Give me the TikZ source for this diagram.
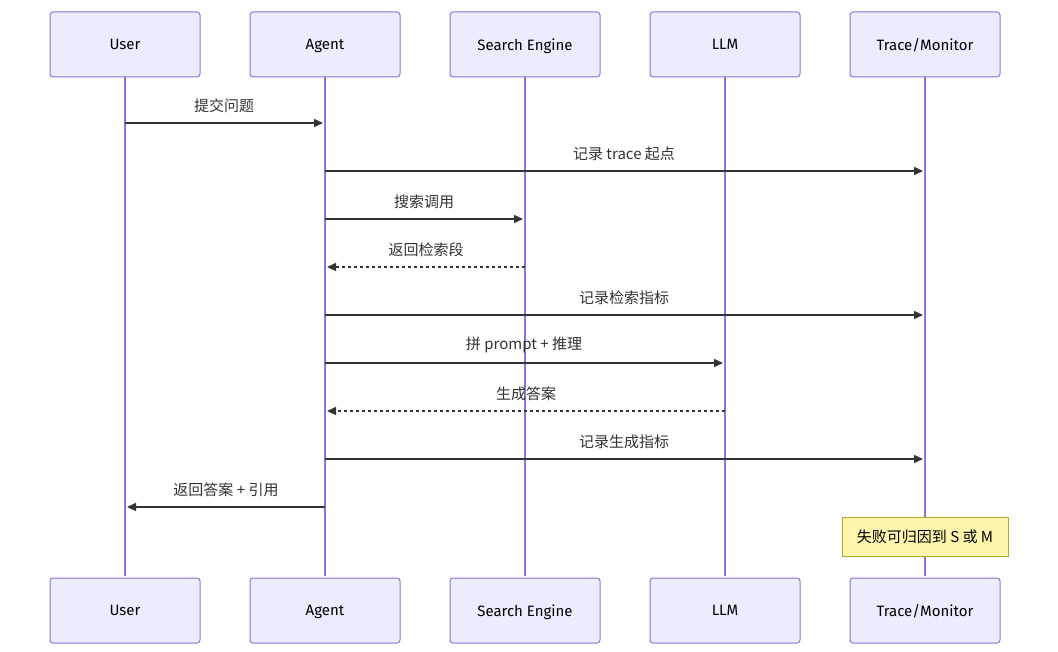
\documentclass[tikz,border=0pt]{standalone}
\usepackage{fontspec}
\setmainfont{Fira Sans}
\newfontfamily\cjk{Noto Sans CJK SC}
\usetikzlibrary{arrows.meta, positioning}
\definecolor{boxfill}{HTML}{ECECFF}
\definecolor{boxline}{HTML}{9370DB}
\definecolor{notefill}{HTML}{FFF5AD}
\definecolor{noteline}{HTML}{AAAA33}
\definecolor{msgline}{HTML}{333333}
\begin{document}
\begin{tikzpicture}[x=1pt, y=-1pt, >={Triangle[length=9pt, width=8pt]}, font=\fontsize{15}{18}\selectfont]
        \tikzset{
            actor/.style={draw=boxline, line width=1pt, fill=boxfill, rounded corners=3pt, minimum width=150pt, minimum height=65pt, inner sep=0pt, text depth=0pt, yshift=-1pt},
            msg/.style={->, draw=msgline, line width=1.5pt},
            reply/.style={msg, dash pattern=on 3pt off 3pt},
            lbl/.style={midway, above=6pt, font=\cjk\fontsize{15}{18}\selectfont, text=msgline},
        }
        \fill[white] (0, 0) rectangle (1058, 652);
        % actors and lifelines
        \foreach \name/\txt/\x in {user/User/125, agent/Agent/325, search/Search Engine/525, llm/LLM/725, trace/Trace\slash Monitor/925} {
            \draw[boxline, line width=2pt] (\x, 75) -- (\x, 576);
            \node[actor] (\name top) at (\x, 43.5) {\txt};
            \node[actor] (\name bot) at (\x, 609.5) {\txt};
        }
        % messages
        \draw[msg] (125, 123) -- (323, 123) node[lbl] {提交问题};
        \draw[msg] (325, 171) -- (923, 171) node[lbl] {记录 trace 起点};
        \draw[msg] (325, 219) -- (523, 219) node[lbl] {搜索调用};
        \draw[reply] (525, 267) -- (327, 267) node[lbl] {返回检索段};
        \draw[msg] (325, 315) -- (923, 315) node[lbl] {记录检索指标};
        \draw[msg] (325, 363) -- (723, 363) node[lbl] {拼 prompt + 推理};
        \draw[reply] (725, 411) -- (327, 411) node[lbl] {生成答案};
        \draw[msg] (325, 459) -- (923, 459) node[lbl] {记录生成指标};
        \draw[msg] (325, 507) -- (127, 507) node[lbl] {返回答案 + 引用};
        % note
        \node[draw=noteline, line width=1pt, fill=notefill, minimum width=166pt, minimum height=39pt, font=\cjk\fontsize{15}{18}\selectfont] (note) at (925, 536.5) {失败可归因到 S 或 M};
    \end{tikzpicture}
\end{document}
